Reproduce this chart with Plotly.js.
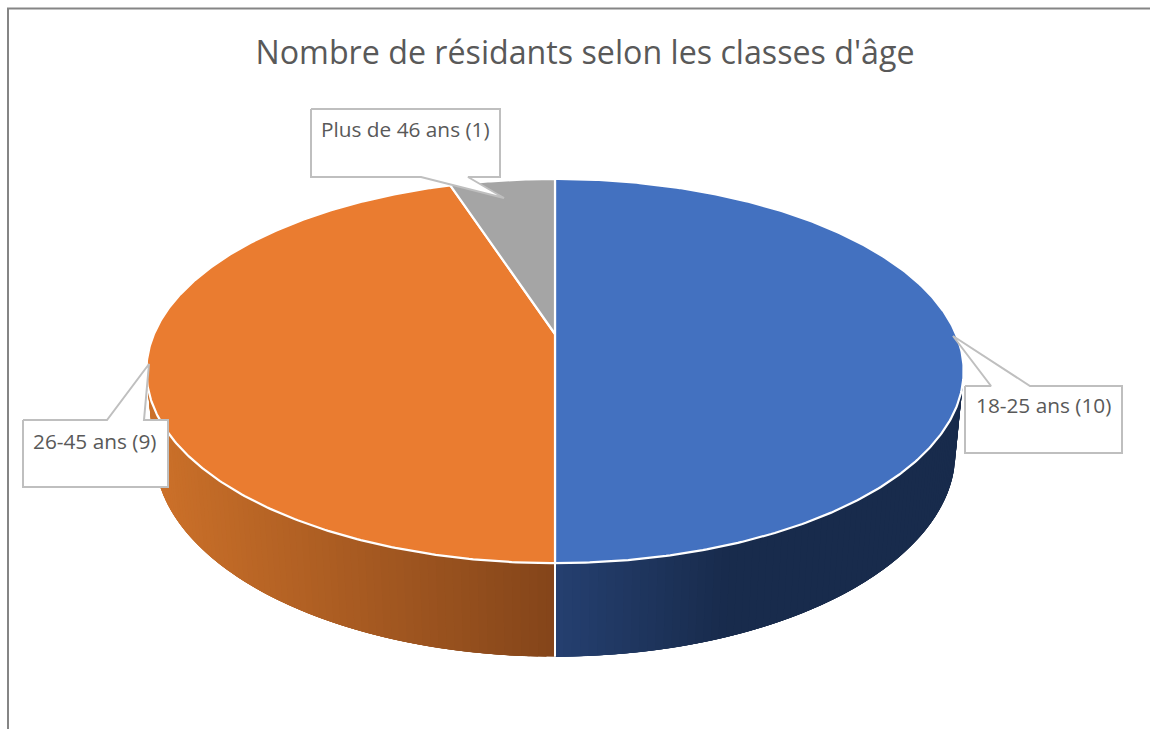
<!DOCTYPE html>
<html><head><meta charset="utf-8">
<script src="https://cdn.plot.ly/plotly-3.0.1.min.js"></script>
<style>html,body{margin:0;padding:0;background:#fff}#c{width:1150px;height:729px}</style>
</head><body><div id="c"></div>
<script>
// --- data ---
const categories = ['18-25 ans', '26-45 ans', 'Plus de 46 ans'];
const values = [10, 9, 1];
const chartTitle = "Nombre de résidants selon les classes d'âge";
// --- styles ---
const lidColors = ['#4371c0', '#ea7c30', '#a5a5a5'];
// --- callout geometry: box [x0,y0,x1,y1], pointer on top or bottom edge, tip, text centre ---
const callouts = [
  {box:[965,386,1122,453], edge:[991,1030], tip:[953,336], text:[1043.5,405]},
  {box:[23,420,168,487],   edge:[107,144],  tip:[149,364], text:[94.5,441]},
  {box:[311,109,500,177],  edge:[421,468],  tip:[504,198], text:[405,129], bottom:true}
];
// --- 3D pie projection (perspective), pixels ---
const cx = 555, cy = 334, A = 401, B = 185, K = 0.1927, M = 0.02, D = 82;
function proj(deg, z) {
  const t = deg * Math.PI / 180, X = Math.sin(t), Y = Math.cos(t);
  const w = 1 + K * Y + M * z;
  return [cx + A * X / w, cy - (B * Y - D * z) / w];
}
function mix(a, b, f) {
  return 'rgb(' + a.map((v, i) => Math.round(v + (b[i] - v) * f)).join(',') + ')';
}
function wallColor(idx, x) {
  if (idx === 0) return mix([37, 63, 112], [24, 43, 76], Math.min(1, (x - cx) / 170));
  return mix([132, 69, 26], [203, 112, 41], Math.min(1, (cx - x) / 390));
}
const total = values.reduce((a, b) => a + b, 0);
const traces = [];
const base = {mode:'lines', hoverinfo:'skip', showlegend:false};
let start = 0;
const spans = values.map(v => { const s = [start, start + v / total * 360]; start = s[1]; return s; });

// side wall strips: each strip overlaps the next so no seams show
spans.forEach((s, idx) => {
  const a0 = Math.max(s[0], 60), a1 = Math.min(s[1], 300);
  if (a1 <= a0) return;
  const n = Math.ceil(a1 - a0);
  for (let i = 0; i < n; i++) {
    const p = a0 + (a1 - a0) * i / n;
    const q = Math.min(a1, a0 + (a1 - a0) * (i + 4) / n);
    const mid = Math.floor((q - p) * 2);
    const top = [], bot = [];
    for (let k = 0; k <= mid; k++) {
      const a = p + (q - p) * k / mid;
      top.push(proj(a, 0)); bot.unshift(proj(a, 1));
    }
    const pts = top.concat(bot); pts.push(pts[0]);
    const col = wallColor(idx, proj(p + (a1 - a0) / n / 2, 1)[0]);
    traces.push({...base, x:pts.map(v=>v[0]), y:pts.map(v=>v[1]), fill:'toself', fillcolor:col, line:{color:col, width:0}});
  }
});
// white seam between walls at the slice boundary in front
spans.forEach(s => {
  const a = s[1];
  if (a > 60 && a < 300) {
    const p0 = proj(a,0), p1 = proj(a,1);
    traces.push({...base, x:[p0[0],p1[0]], y:[p0[1],p1[1]], line:{color:'#ffffff', width:2}});
  }
});
// lids
spans.forEach((s, idx) => {
  const n = Math.ceil(s[1] - s[0]) * 2;
  const xs = [cx], ys = [cy];
  for (let i = 0; i <= n; i++) {
    const p = proj(s[0] + (s[1] - s[0]) * i / n, 0);
    xs.push(p[0]); ys.push(p[1]);
  }
  xs.push(cx); ys.push(cy);
  traces.push({...base, x:xs, y:ys, fill:'toself', fillcolor:lidColors[idx], line:{color:'#ffffff', width:2.2}});
});
// frame of the chart area
traces.push({...base, x:[8,8,1150], y:[729,8.5,8.5], line:{color:'#858585', width:2}});
// callouts
callouts.forEach(c => {
  const [x0,y0,x1,y1] = c.box;
  const xs = c.bottom ? [x0,x1,x1,c.edge[1],c.tip[0],c.edge[0],x0,x0]
                      : [x0,c.edge[0],c.tip[0],c.edge[1],x1,x1,x0,x0];
  const ys = c.bottom ? [y0,y0,y1,y1,c.tip[1],y1,y1,y0]
                      : [y0,y0,c.tip[1],y0,y0,y1,y1,y0];
  traces.push({...base, x:xs, y:ys, fill:'toself', fillcolor:'#ffffff', line:{color:'#bfbfbf', width:2}});
});
const annotations = categories.map((cat, i) => ({
  text: cat + ' (' + values[i] + ')',
  x: callouts[i].text[0], y: callouts[i].text[1], xref:'x', yref:'y',
  showarrow:false, xanchor:'center', yanchor:'middle',
  font:{family:'"Open Sans", sans-serif', size:20.8, color:'#595959'}
}));
const hidden = {visible:false, fixedrange:true};
Plotly.newPlot('c', traces, {
  width:1150, height:729, margin:{l:0,r:0,t:0,b:0},
  paper_bgcolor:'#ffffff', plot_bgcolor:'#ffffff', showlegend:false,
  title:{text:chartTitle, x:585/1150, xanchor:'center', y:1-53/729, yanchor:'middle',
         font:{family:'"Open Sans", sans-serif', size:32.2, color:'#595959'}},
  xaxis:{...hidden, range:[0,1150]},
  yaxis:{...hidden, range:[729,0]},
  annotations
}, {displayModeBar:false, staticPlot:true});
</script></body></html>
